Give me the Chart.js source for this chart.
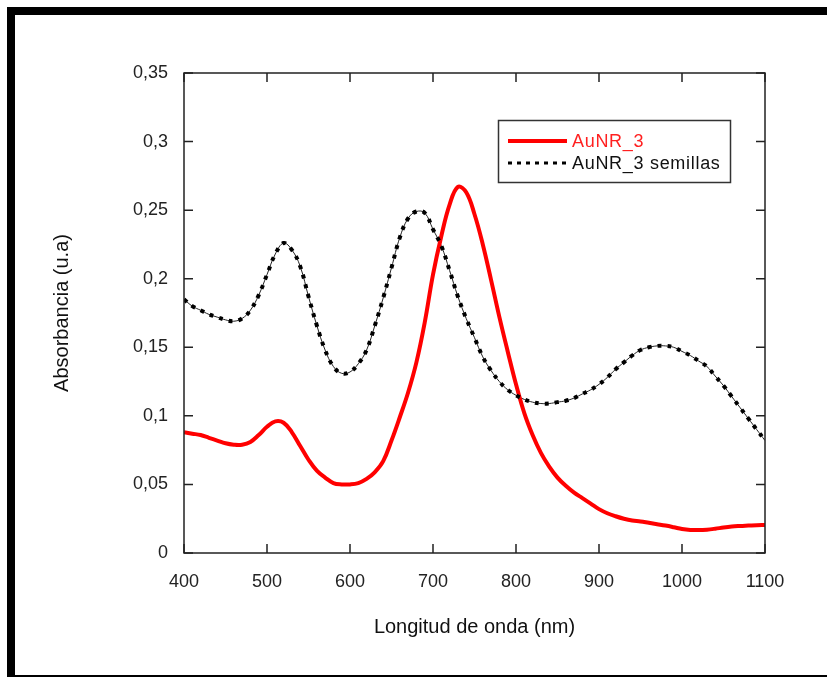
<!DOCTYPE html>
<html>
<head>
<meta charset="utf-8">
<script src="https://cdn.jsdelivr.net/npm/chart.js@4.4.1/dist/chart.umd.min.js"></script>
<style>
    body { margin: 0; background: #fff; }
    #wrap { position: relative; width: 827px; height: 679px; overflow: hidden; }
    #marco {
        position: absolute; left: 7px; top: 7px; width: 840px; height: 670px;
        border-left: 8px solid #000; border-top: 8px solid #000; border-bottom: 2px solid #000;
        box-sizing: border-box;
    }
    canvas { position: absolute; left: 0; top: 0; }
</style>
</head>
<body>
<div id="wrap">
    <div id="marco"></div>
    <canvas id="grafico" width="827" height="679"></canvas>
</div>
<script>
// Longitudes de onda (nm)
const longitudes = [400, 410, 420, 430, 440, 450, 460, 470, 480, 490, 500, 510, 520, 530, 540, 550, 560, 570, 580, 590,
    600, 610, 620, 630, 640, 650, 660, 670, 680, 690, 700, 710, 720, 730, 740, 750, 760, 770, 780, 790,
    800, 810, 820, 830, 840, 850, 860, 870, 880, 890, 900, 910, 920, 930, 940, 950, 960, 970, 980, 990,
    1000, 1010, 1020, 1030, 1040, 1050, 1060, 1070, 1080, 1090, 1100];

// AuNR_3 (rojo)
const aunr3 = [0.088, 0.087, 0.086, 0.084, 0.082, 0.080, 0.079, 0.079, 0.081, 0.086, 0.092, 0.096, 0.095, 0.088, 0.078, 0.068, 0.060, 0.055, 0.051, 0.050,
    0.050, 0.051, 0.054, 0.059, 0.067, 0.082, 0.099, 0.117, 0.139, 0.168, 0.203, 0.231, 0.254, 0.267, 0.263, 0.247, 0.225, 0.199, 0.172, 0.147,
    0.123, 0.102, 0.086, 0.073, 0.063, 0.055, 0.049, 0.044, 0.040, 0.036, 0.032, 0.029, 0.0268, 0.025, 0.0237, 0.023, 0.022, 0.021, 0.0200, 0.0188,
    0.0175, 0.0168, 0.0167, 0.017, 0.0177, 0.0186, 0.0193, 0.0197, 0.020, 0.0203, 0.0205];

// AuNR_3 semillas (negro punteado)
const aunr3Semillas = [0.185, 0.180, 0.177, 0.174, 0.172, 0.170, 0.169, 0.171, 0.177, 0.188, 0.203, 0.218, 0.226, 0.221, 0.209, 0.187, 0.166, 0.148, 0.136, 0.131,
    0.132, 0.138, 0.148, 0.166, 0.186, 0.208, 0.230, 0.244, 0.249, 0.248, 0.236, 0.224, 0.206, 0.187, 0.171, 0.157, 0.143, 0.133, 0.125, 0.119,
    0.115, 0.112, 0.110, 0.109, 0.109, 0.110, 0.111, 0.113, 0.116, 0.119, 0.123, 0.128, 0.134, 0.139, 0.144, 0.148, 0.150, 0.151, 0.151, 0.150,
    0.147, 0.144, 0.140, 0.136, 0.129, 0.122, 0.114, 0.106, 0.098, 0.090, 0.082];

const etiquetasY = ['0', '0,05', '0,1', '0,15', '0,2', '0,25', '0,3', '0,35'];
const etiquetasX = ['400', '500', '600', '700', '800', '900', '1000', '1100'];
const nombres = ['AuNR_3', 'AuNR_3 semillas'];

function puntos(valores) {
    return longitudes.map((x, i) => ({ x: x, y: valores[i] }));
}

// Marco del area, marcas hacia dentro y leyenda
const marcasYLeyenda = {
    id: 'marcasYLeyenda',
    afterDraw(chart) {
        const ctx = chart.ctx;
        const a = chart.chartArea;
        const sx = chart.scales.x, sy = chart.scales.y;
        ctx.save();
        ctx.strokeStyle = '#222';
        ctx.lineWidth = 1.5;
        ctx.strokeRect(a.left, a.top, a.right - a.left, a.bottom - a.top);
        ctx.beginPath();
        sx.ticks.forEach(t => {
            const px = sx.getPixelForValue(t.value);
            ctx.moveTo(px, a.bottom); ctx.lineTo(px, a.bottom - 9);
            ctx.moveTo(px, a.top); ctx.lineTo(px, a.top + 9);
        });
        sy.ticks.forEach(t => {
            const py = sy.getPixelForValue(t.value);
            ctx.moveTo(a.left, py); ctx.lineTo(a.left + 9, py);
            ctx.moveTo(a.right, py); ctx.lineTo(a.right - 9, py);
        });
        ctx.stroke();

        // leyenda
        ctx.lineWidth = 1.5;
        ctx.strokeStyle = '#333';
        ctx.strokeRect(498.5, 120.5, 232, 62);
        ctx.beginPath();
        ctx.strokeStyle = '#ff0000';
        ctx.lineWidth = 4;
        ctx.moveTo(508, 141); ctx.lineTo(567, 141);
        ctx.stroke();
        ctx.beginPath();
        ctx.strokeStyle = '#000';
        ctx.lineWidth = 3;
        ctx.setLineDash([4, 5]);
        ctx.moveTo(508, 163); ctx.lineTo(567, 163);
        ctx.stroke();
        ctx.setLineDash([]);
        ctx.font = '18px "Liberation Sans", Arial, sans-serif';
        ctx.letterSpacing = '0.7px';
        ctx.textBaseline = 'middle';
        ctx.fillStyle = '#ff2020';
        ctx.fillText(nombres[0], 572, 142);
        ctx.fillStyle = '#111';
        ctx.fillText(nombres[1], 572, 164);
        ctx.restore();
    }
};

const ctxGrafico = document.getElementById('grafico').getContext('2d');
const grafico = new Chart(ctxGrafico, {
    type: 'line',
    data: {
        datasets: [
            {
                label: nombres[0],
                data: puntos(aunr3),
                borderColor: '#ff0000',
                borderWidth: 4,
                pointRadius: 0,
                tension: 0.4,
                order: 2
            },
            {
                label: nombres[1],
                data: puntos(aunr3Semillas),
                borderColor: '#000',
                borderWidth: 4,
                borderDash: [4, 6],
                borderCapStyle: 'butt',
                pointRadius: 0,
                tension: 0.4,
                order: 1
            },
            {
                label: '',
                data: puntos(aunr3Semillas),
                borderColor: '#222',
                borderWidth: 1,
                pointRadius: 0,
                tension: 0.4,
                order: 3
            }
        ]
    },
    options: {
        responsive: false,
        animation: false,
        events: [],
        layout: { padding: { left: 0, top: 73, right: 62, bottom: 0 } },
        plugins: {
            legend: { display: false },
            tooltip: { enabled: false }
        },
        scales: {
            x: {
                type: 'linear',
                min: 400,
                max: 1100,
                border: { display: false },
                grid: { display: false, drawTicks: false },
                ticks: {
                    stepSize: 100,
                    padding: 18,
                    color: '#222',
                    font: { family: '"Liberation Sans", Arial, sans-serif', size: 18 },
                    callback: (v, i) => etiquetasX[i]
                },
                title: {
                    display: true,
                    text: 'Longitud de onda (nm)',
                    color: '#111',
                    font: { family: '"Liberation Sans", Arial, sans-serif', size: 20 },
                    padding: { top: 0, bottom: 40 }
                },
                afterFit: s => { s.height = 126; }
            },
            y: {
                min: 0,
                max: 0.35,
                border: { display: false },
                grid: { display: false, drawTicks: false },
                ticks: {
                    stepSize: 0.05,
                    padding: 16,
                    color: '#222',
                    font: { family: '"Liberation Sans", Arial, sans-serif', size: 18 },
                    callback: (v, i) => etiquetasY[i]
                },
                title: {
                    display: true,
                    text: 'Absorbancia (u.a)',
                    color: '#111',
                    font: { family: '"Liberation Sans", Arial, sans-serif', size: 20 },
                    padding: { top: 50, bottom: 0 }
                },
                afterFit: s => { s.width = 184; }
            }
        }
    },
    plugins: [marcasYLeyenda]
});
</script>
</body>
</html>
